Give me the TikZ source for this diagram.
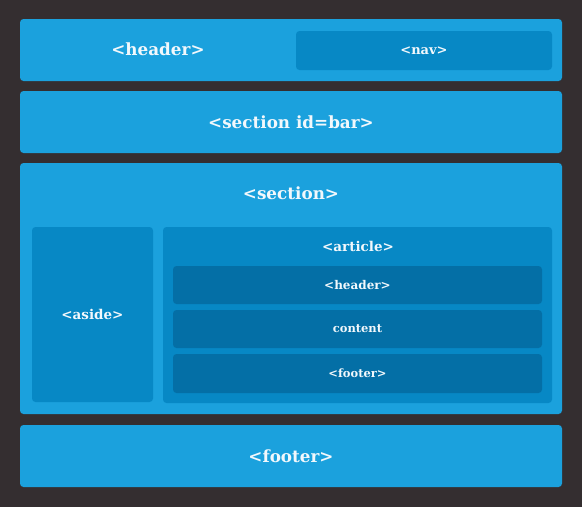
\documentclass[tikz,border=0pt]{standalone}
\usepackage{fontspec}
\setmainfont{DejaVu Serif}
\definecolor{bgdark}{HTML}{342E30}
\definecolor{mainblue}{HTML}{1BA1DD}
\definecolor{midblue}{HTML}{0788C5}
\definecolor{deepblue}{HTML}{046FA6}
\definecolor{txt}{HTML}{F2F8FC}
\begin{document}
\begin{tikzpicture}[x=1pt,y=-1pt,
  box/.style={anchor=north west,inner sep=0pt,outer sep=0pt,rounded corners=3.5pt,text=txt,font=\bfseries},
  mainbox/.style={box,fill=mainblue},
  midbox/.style={box,fill=midblue},
  deepbox/.style={box,fill=deepblue},
  lbl/.style={text=txt,inner sep=0pt,font=\bfseries},
  bigf/.style={font=\bfseries\fontsize{16.8}{20}\selectfont},
  medf/.style={font=\bfseries\fontsize{13.5}{16}\selectfont},
  smlf/.style={font=\bfseries\fontsize{12}{14}\selectfont}]
\fill[bgdark] (0,0) rectangle (582,507);
\useasboundingbox (0,0) rectangle (582,507);
% header
\node[mainbox,minimum width=542pt,minimum height=62pt] (hdr) at (20,19) {};
\node[lbl,bigf] (hdrl) at (158,49) {<header>};
\node[midbox,minimum width=256pt,minimum height=39pt,font=\bfseries\fontsize{13}{15}\selectfont] (nav) at (296,31) {<nav>};
% section id=bar
\node[mainbox,minimum width=542pt,minimum height=62pt,bigf] (bar) at (20,91) {<section id=bar>};
% section
\node[mainbox,minimum width=542pt,minimum height=251pt] (sec) at (20,163) {};
\node[lbl,bigf] (secl) at (291,193) {<section>};
\node[midbox,minimum width=121pt,minimum height=175pt,medf] (aside) at (32,227) {<aside>};
\node[midbox,minimum width=389pt,minimum height=176pt] (art) at (163,227) {};
\node[lbl,medf] (artl) at (358,246) {<article>};
\node[deepbox,minimum width=369pt,minimum height=38pt,smlf] (ahdr) at (173,266) {<header>};
\node[deepbox,minimum width=369pt,minimum height=38pt,font=\bfseries\fontsize{11.5}{14}\selectfont] (acnt) at (173,310) {content};
\node[deepbox,minimum width=369pt,minimum height=39pt,font=\bfseries\fontsize{11.5}{14}\selectfont] (aftr) at (173,354) {<footer>};
% footer
\node[mainbox,minimum width=542pt,minimum height=62pt,bigf] (ftr) at (20,425) {<footer>};
\end{tikzpicture}
\end{document}
